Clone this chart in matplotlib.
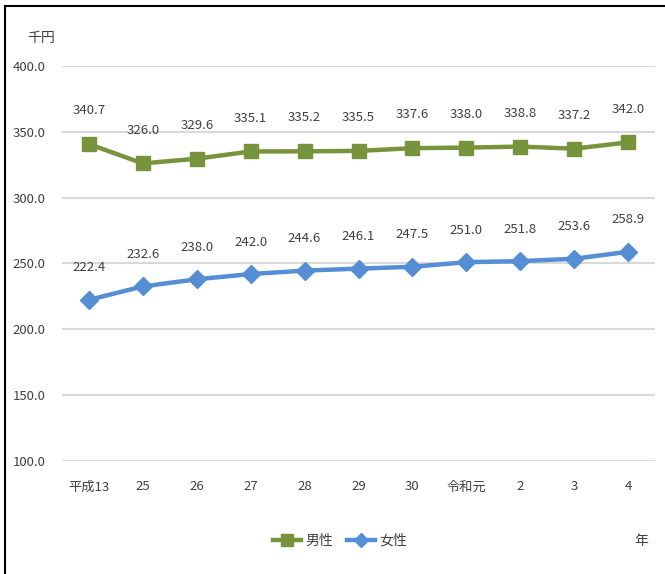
import matplotlib
matplotlib.use("Agg")
import matplotlib.pyplot as plt
from matplotlib.lines import Line2D

plt.rcParams['font.family'] = ['Noto Sans CJK JP', 'DejaVu Sans']

years = ['平成13', '25', '26', '27', '28', '29', '30', '令和元', '2', '3', '4']
male = [340.7, 326.0, 329.6, 335.1, 335.2, 335.5, 337.6, 338.0, 338.8, 337.2, 342.0]
female = [222.4, 232.6, 238.0, 242.0, 244.6, 246.1, 247.5, 251.0, 251.8, 253.6, 258.9]
yticks = [100, 150, 200, 250, 300, 350, 400]

green = '#77933C'
blue = '#558ED5'
txt = '#404040'

fig = plt.figure(figsize=(6.65, 5.74), dpi=100)
W, H = 665, 574
ax = fig.add_axes([62 / W, 1 - 461 / H, (655 - 62) / W, (461 - 66) / H])

x = list(range(len(years)))
ax.plot(x, male, color=green, lw=3.2, marker='s', ms=10, zorder=3)
ax.plot(x, female, color=blue, lw=3.2, marker='D', ms=9, zorder=3)

for i in x:
    ax.annotate(f'{male[i]:.1f}', (i, male[i]), xytext=(0, 24), textcoords='offset points',
                ha='center', va='center', fontsize=9.5, color=txt)
    ax.annotate(f'{female[i]:.1f}', (i, female[i]), xytext=(0, 23), textcoords='offset points',
                ha='center', va='center', fontsize=9.5, color=txt)

ax.set_xlim(-0.5, len(years) - 0.5)
ax.set_ylim(100, 400)
ax.set_yticks(yticks)
ax.set_yticklabels([f'{v:.1f}' for v in yticks], fontsize=9.5, color=txt)
ax.set_xticks(x)
ax.set_xticklabels(years, fontsize=9.5, color=txt)
ax.tick_params(length=0, pad=14)
ax.tick_params(axis='y', pad=12)
ax.grid(axis='y', color='#D9D9D9', lw=1.5)
ax.set_axisbelow(True)
for s in ax.spines.values():
    s.set_visible(False)

fig.text(41 / W, 1 - 38 / H, '千円', fontsize=10, color=txt, ha='center', va='center')
fig.text(641 / W, 1 - 541 / H, '年', fontsize=10, color=txt, ha='center', va='center')

handles = [Line2D([], [], color=green, lw=3.2, marker='s', ms=8),
           Line2D([], [], color=blue, lw=3.2, marker='D', ms=7)]
fig.legend(handles, ['男性', '女性'], loc='center', bbox_to_anchor=(340 / W, 1 - 541 / H),
           ncol=2, frameon=False, fontsize=10, handlelength=2.0, handletextpad=0.3,
           columnspacing=1.0, labelcolor=txt)

# frame lines (top and left)
fig.add_artist(Line2D([5 / W, 1], [1 - 6 / H, 1 - 6 / H], color='black', lw=1.5))
fig.add_artist(Line2D([5 / W, 5 / W], [0, 1 - 6 / H], color='black', lw=1.5))

fig.savefig('out.png', dpi=100)
